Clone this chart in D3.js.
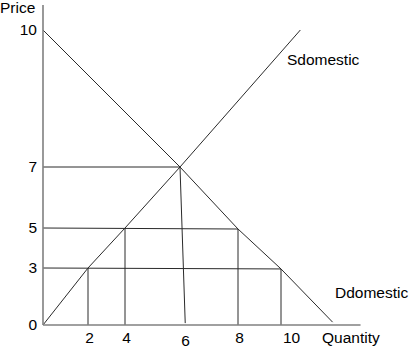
<!DOCTYPE html>
<html>
<head>
<meta charset="utf-8">
<script src="https://cdn.jsdelivr.net/npm/d3@7"></script>
<style>
  body { margin: 0; background: #fff; }
  svg { display: block; }
  text { font-family: "Liberation Sans", Arial, sans-serif; fill: #000; }
</style>
</head>
<body>
<div id="chart"></div>
<script>
// tick labels
var qTicks = [0, 2, 4, 6, 8, 10];
var pTicks = [0, 3, 5, 7, 10];
var xTicks = [2, 4, 6, 8, 10];

// curves (quantity, price)
var supply = [[0, 0], [2, 3], [4, 5], [6, 7], [10.9, 10.0]];
var demand = [[0, 10], [6, 7], [8, 4.95], [10, 2.95], [12.4, 0.15]];

// guide lines from the curves to the axes
var hGuides = [[[0, 7], [6, 7]], [[0, 5], [8, 4.95]], [[0, 3], [10, 2.95]]];
var vGuides = [[[2, 3], [2, 0]], [[4, 5], [4, 0]], [[6, 7], [6.18, 0.1]], [[8, 4.95], [8, 0]], [[10, 2.95], [10, 0]]];

var width = 410, height = 348;

var svg = d3.select("#chart").append("svg")
    .attr("width", width)
    .attr("height", height);

// hand drawn graph: the spacing is uneven, so piecewise scales
var x = d3.scaleLinear()
    .domain(qTicks)
    .range([43, 88, 125, 180, 238, 281]);

var y = d3.scaleLinear()
    .domain(pTicks)
    .range([325, 268, 228, 167, 30]);

var line = d3.line()
    .x(function(d) { return x(d[0]); })
    .y(function(d) { return y(d[1]); });

// guides
svg.append("g")
    .selectAll("path")
    .data(hGuides.concat(vGuides))
    .enter().append("path")
    .attr("d", line)
    .attr("fill", "none")
    .attr("stroke", "#2a2a2a")
    .attr("stroke-width", 1);

// supply and demand
svg.append("g")
    .selectAll("path")
    .data([supply, demand])
    .enter().append("path")
    .attr("d", line)
    .attr("fill", "none")
    .attr("stroke", "#2a2a2a")
    .attr("stroke-width", 1);

// axis lines
svg.append("line")
    .attr("x1", x(0)).attr("y1", y(0))
    .attr("x2", x(0)).attr("y2", y(10.55))
    .attr("stroke", "#808080").attr("stroke-width", 1.6);

svg.append("line")
    .attr("x1", x(0)).attr("y1", y(0))
    .attr("x2", x(13.7)).attr("y2", y(0))
    .attr("stroke", "#808080").attr("stroke-width", 1.6);

// tick labels
var yAxis = svg.append("g")
    .attr("transform", "translate(" + x(0) + ",0)")
    .call(d3.axisLeft(y).tickValues(pTicks).tickSize(0).tickPadding(6).tickFormat(d3.format("d")));

var xAxis = svg.append("g")
    .attr("transform", "translate(0," + y(0) + ")")
    .call(d3.axisBottom(x).tickValues(xTicks).tickSize(0).tickPadding(7).tickFormat(d3.format("d")));

svg.selectAll(".domain").remove();
svg.selectAll(".tick text")
    .style("font-size", "15.5px")
    .style("font-family", "\"Liberation Sans\", Arial, sans-serif")
    .attr("fill", "#000");

// the 6 and 10 were written a bit off their lines
xAxis.selectAll(".tick text")
    .attr("x", function(d) { return d == 6 ? 5 : d == 10 ? 10 : 1; })
    .attr("y", function(d) { return d == 6 ? 10 : 7; });

// labels
function label(txt, px, py) {
    svg.append("text")
        .attr("x", px)
        .attr("y", py)
        .style("font-size", "15.5px")
        .text(txt);
}
label("Price", 0, 13);
label("Quantity", 322, 343);
label("Sdomestic", 287, 65);
label("Ddomestic", 335, 298);
</script>
</body>
</html>
